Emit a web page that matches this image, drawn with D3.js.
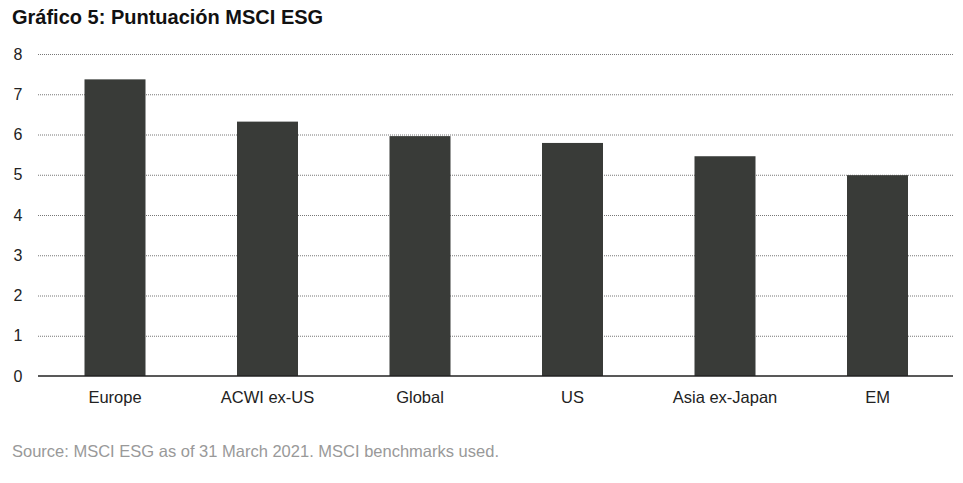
<!DOCTYPE html>
<html><head><meta charset="utf-8">
<script src="https://cdn.jsdelivr.net/npm/d3@7"></script>
<style>body{margin:0;background:#fff;} svg{display:block;font-family:"Liberation Sans",Arial,sans-serif;}</style>
</head><body>
<script>
const categories = ["Europe","ACWI ex-US","Global","US","Asia ex-Japan","EM"];
const values = [7.37, 6.32, 5.96, 5.79, 5.46, 4.99];
const yTicks = [0,1,2,3,4,5,6,7,8];
const title = "Gráfico 5: Puntuación MSCI ESG";
const source = "Source: MSCI ESG as of 31 March 2021. MSCI benchmarks used.";

const W = 963, H = 483;
const svg = d3.select("body").append("svg").attr("width", W).attr("height", H);
const x = d3.scaleBand().domain(categories).range([38.75, 953.75]).paddingInner(0.6).paddingOuter(0.3);
const y = d3.scaleLinear().domain([0, 8]).range([376, 54]);

svg.append("text").attr("x", 12).attr("y", 24).attr("font-size", 20).attr("font-weight", "bold").attr("fill", "#111").text(title);

// grid
svg.append("g").selectAll("line").data(yTicks.filter(d => d > 0)).join("line")
  .attr("x1", 38).attr("x2", 953).attr("y1", d => y(d) + 0.5).attr("y2", d => y(d) + 0.5)
  .attr("stroke", "#777").attr("stroke-width", 1).attr("stroke-dasharray", "1,1");

// y labels
svg.append("g").selectAll("text").data(yTicks).join("text")
  .attr("x", 18).attr("y", d => y(d)).attr("dy", "0.35em").attr("text-anchor", "middle")
  .attr("font-size", 16).attr("fill", "#222").text(d => d);

// bars
svg.append("g").selectAll("rect").data(values).join("rect")
  .attr("x", (d, i) => x(categories[i])).attr("width", x.bandwidth())
  .attr("y", d => y(d)).attr("height", d => y(0) - y(d)).attr("fill", "#393b38");

// axis line
svg.append("line").attr("x1", 38).attr("x2", 953).attr("y1", y(0)).attr("y2", y(0)).attr("stroke", "#222").attr("stroke-width", 1.5);

// x labels
svg.append("g").selectAll("text").data(categories).join("text")
  .attr("x", d => x(d) + x.bandwidth() / 2).attr("y", 403).attr("text-anchor", "middle")
  .attr("font-size", 16.5).attr("fill", "#222").text(d => d);

svg.append("text").attr("x", 12).attr("y", 457).attr("font-size", 16.5).attr("fill", "#999").text(source);
</script>
</body></html>
